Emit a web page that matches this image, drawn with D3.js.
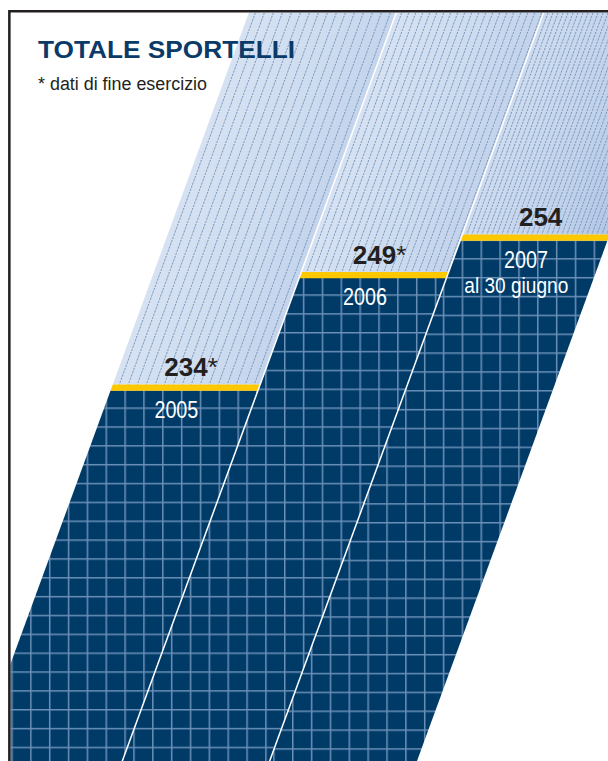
<!DOCTYPE html>
<html>
<head>
<meta charset="utf-8">
<script src="https://cdn.jsdelivr.net/npm/d3@7"></script>
<style>
  html, body { margin: 0; padding: 0; background: #fff; }
  svg { display: block; }
</style>
</head>
<body>
<svg id="chart" width="608" height="761"></svg>
<script>
// Totale sportelli per anno
const years = ["2005", "2006", "2007"];
const values = [234, 249, 254];
const valueMarks = ["*", "*", ""];
const yearNotes = ["", "", "al 30 giugno"];

const W = 608, H = 761;
const frameLeft = 10.6, frameTop = 12.4;
const FONT = "'Liberation Sans','Arimo',Arial,sans-serif";

// columns lean to the right: x shifts by `lean` per pixel going up from the base line
const lean = 0.366, yBase = H;
const leanDeg = Math.atan(lean) * 180 / Math.PI;
const shear = `translate(${lean * yBase},0) skewX(${-leanDeg})`;
const sx = (x0, yy) => x0 + lean * (yBase - yy);

const x = d3.scaleBand().domain(years).range([-25, 417]).paddingInner(0);
const y = d3.scaleLinear().domain([234, 254]).range([384.5, 234.5]);

const barThick = 6.3;
const gridStep = 18.85;
const gridPhase = [[12, 12.3], [2, 12.3], [10, 13.8]];
const hatchStep = [9, 7, 5];
const lightStops = [
  ["#d6e2f2", "#c4d4ec"],
  ["#d6e2f2", "#c3d3eb"],
  ["#cfdcef", "#b3c6e5"]
];

const svg = d3.select("#chart");
const defs = svg.append("defs");

defs.append("clipPath").attr("id", "frame")
  .append("rect").attr("x", frameLeft).attr("y", frameTop)
  .attr("width", W - frameLeft).attr("height", H - frameTop);

years.forEach((yr, i) => {
  const x0 = x(yr), x1 = x0 + x.bandwidth();

  const g = defs.append("linearGradient").attr("id", `light-${i}`)
    .attr("gradientUnits", "userSpaceOnUse")
    .attr("x1", x0).attr("x2", x1).attr("y1", 0).attr("y2", 0)
    .attr("gradientTransform", shear);
  g.append("stop").attr("offset", "0").attr("stop-color", lightStops[i][0]);
  g.append("stop").attr("offset", "0.6").attr("stop-color", d3.interpolateRgb(lightStops[i][0], lightStops[i][1])(0.45));
  g.append("stop").attr("offset", "1").attr("stop-color", lightStops[i][1]);

  const s = hatchStep[i];
  const hp = defs.append("pattern").attr("id", `hatch-${i}`)
    .attr("patternUnits", "userSpaceOnUse")
    .attr("width", s).attr("height", 3.2)
    .attr("x", x0 + 2)
    .attr("patternTransform", shear);
  hp.append("line").attr("x1", s / 2).attr("x2", s / 2).attr("y1", 0).attr("y2", 2.1)
    .attr("stroke", "#7898bd").attr("stroke-width", 1);

  const gp = defs.append("pattern").attr("id", `grid-${i}`)
    .attr("patternUnits", "userSpaceOnUse")
    .attr("width", gridStep).attr("height", gridStep)
    .attr("x", gridPhase[i][0] - 0.75).attr("y", gridPhase[i][1] - 0.75);
  gp.append("rect").attr("width", gridStep).attr("height", gridStep).attr("fill", "#003b68");
  gp.append("path")
    .attr("d", `M0.75,0V${gridStep}M0,0.75H${gridStep}`)
    .attr("stroke", "#6b8fb7").attr("stroke-width", 1.5).attr("fill", "none");
});

const quad = (x0, x1, y1, y2) =>
  [[sx(x0, y1), y1], [sx(x1, y1), y1], [sx(x1, y2), y2], [sx(x0, y2), y2]];
const line = d3.line();

const plot = svg.append("g").attr("clip-path", "url(#frame)");

const cols = plot.selectAll("g.col").data(years).join("g").attr("class", "col");

cols.each(function (yr, i) {
  const gc = d3.select(this);
  const x0 = x(yr), x1 = x0 + x.bandwidth();
  const yv = y(values[i]);
  const top = frameTop - 4, bottom = H + 4;

  gc.append("path").attr("d", line(quad(x0, x1, top, yv)) + "Z")
    .attr("fill", `url(#light-${i})`);
  gc.append("path").attr("d", line(quad(x0, x1, top, yv)) + "Z")
    .attr("fill", `url(#hatch-${i})`);
  gc.append("path").attr("d", line(quad(x0, x1, yv + barThick - 0.2, bottom)) + "Z")
    .attr("fill", `url(#grid-${i})`);
  gc.append("path").attr("d", line(quad(x0, x1, yv, yv + barThick)) + "Z")
    .attr("fill", "#fec800");
});

// white separators between the columns
plot.selectAll("line.sep").data(years.slice(1)).join("line")
  .attr("class", "sep")
  .attr("x1", d => sx(x(d), frameTop - 4)).attr("y1", frameTop - 4)
  .attr("x2", d => sx(x(d), H + 4)).attr("y2", H + 4)
  .attr("stroke", "#ffffff").attr("stroke-width", 1.5);

// labels
const colMid = (yr, yy) => sx(x(yr) + x.bandwidth() / 2, yy);

// value: bold number followed by a plain asterisk, centred on the column
const vl = plot.selectAll("text.val").data(years).join("text")
  .attr("class", "val")
  .attr("text-anchor", "middle")
  .attr("x", (d, i) => colMid(d, y(values[i]) - 8.5) + 1.5)
  .attr("y", (d, i) => y(values[i]) - 8.5)
  .attr("font-family", FONT).attr("font-size", 26)
  .attr("fill", "#231f20");
vl.append("tspan").attr("font-weight", "bold").text((d, i) => values[i]);
vl.append("tspan").attr("font-weight", "normal").text((d, i) => valueMarks[i]);

plot.selectAll("text.yr").data(years).join("text")
  .attr("class", "yr")
  .attr("text-anchor", "middle")
  .attr("x", (d, i) => colMid(d, y(values[i]) + 33) + 2)
  .attr("y", (d, i) => y(values[i]) + 33)
  .attr("font-family", FONT).attr("font-size", 23)
  .attr("fill", "#ffffff")
  .attr("textLength", 44).attr("lengthAdjust", "spacingAndGlyphs")
  .text(d => d);

plot.selectAll("text.note").data(years.filter((d, i) => yearNotes[i])).join("text")
  .attr("class", "note")
  .attr("text-anchor", "middle")
  .attr("x", d => colMid(d, y(values[years.indexOf(d)]) + 58) + 1.5)
  .attr("y", d => y(values[years.indexOf(d)]) + 58)
  .attr("font-family", FONT).attr("font-size", 22)
  .attr("fill", "#ffffff")
  .attr("textLength", 104).attr("lengthAdjust", "spacingAndGlyphs")
  .text(d => yearNotes[years.indexOf(d)]);

// title block
svg.append("text")
  .attr("x", 38).attr("y", 57.5)
  .attr("font-family", FONT).attr("font-weight", "bold").attr("font-size", 24)
  .attr("fill", "#0a3a68")
  .attr("textLength", 257).attr("lengthAdjust", "spacingAndGlyphs")
  .text("TOTALE SPORTELLI");

svg.append("text")
  .attr("x", 38).attr("y", 90)
  .attr("font-family", FONT).attr("font-size", 18)
  .attr("fill", "#231f20")
  .attr("textLength", 169).attr("lengthAdjust", "spacingAndGlyphs")
  .text("* dati di fine esercizio");

// frame
svg.append("path")
  .attr("d", `M${frameLeft - 1.25},${H}V${frameTop - 1.25}H${W}`)
  .attr("fill", "none").attr("stroke", "#231f20").attr("stroke-width", 2.5);
</script>
</body>
</html>
